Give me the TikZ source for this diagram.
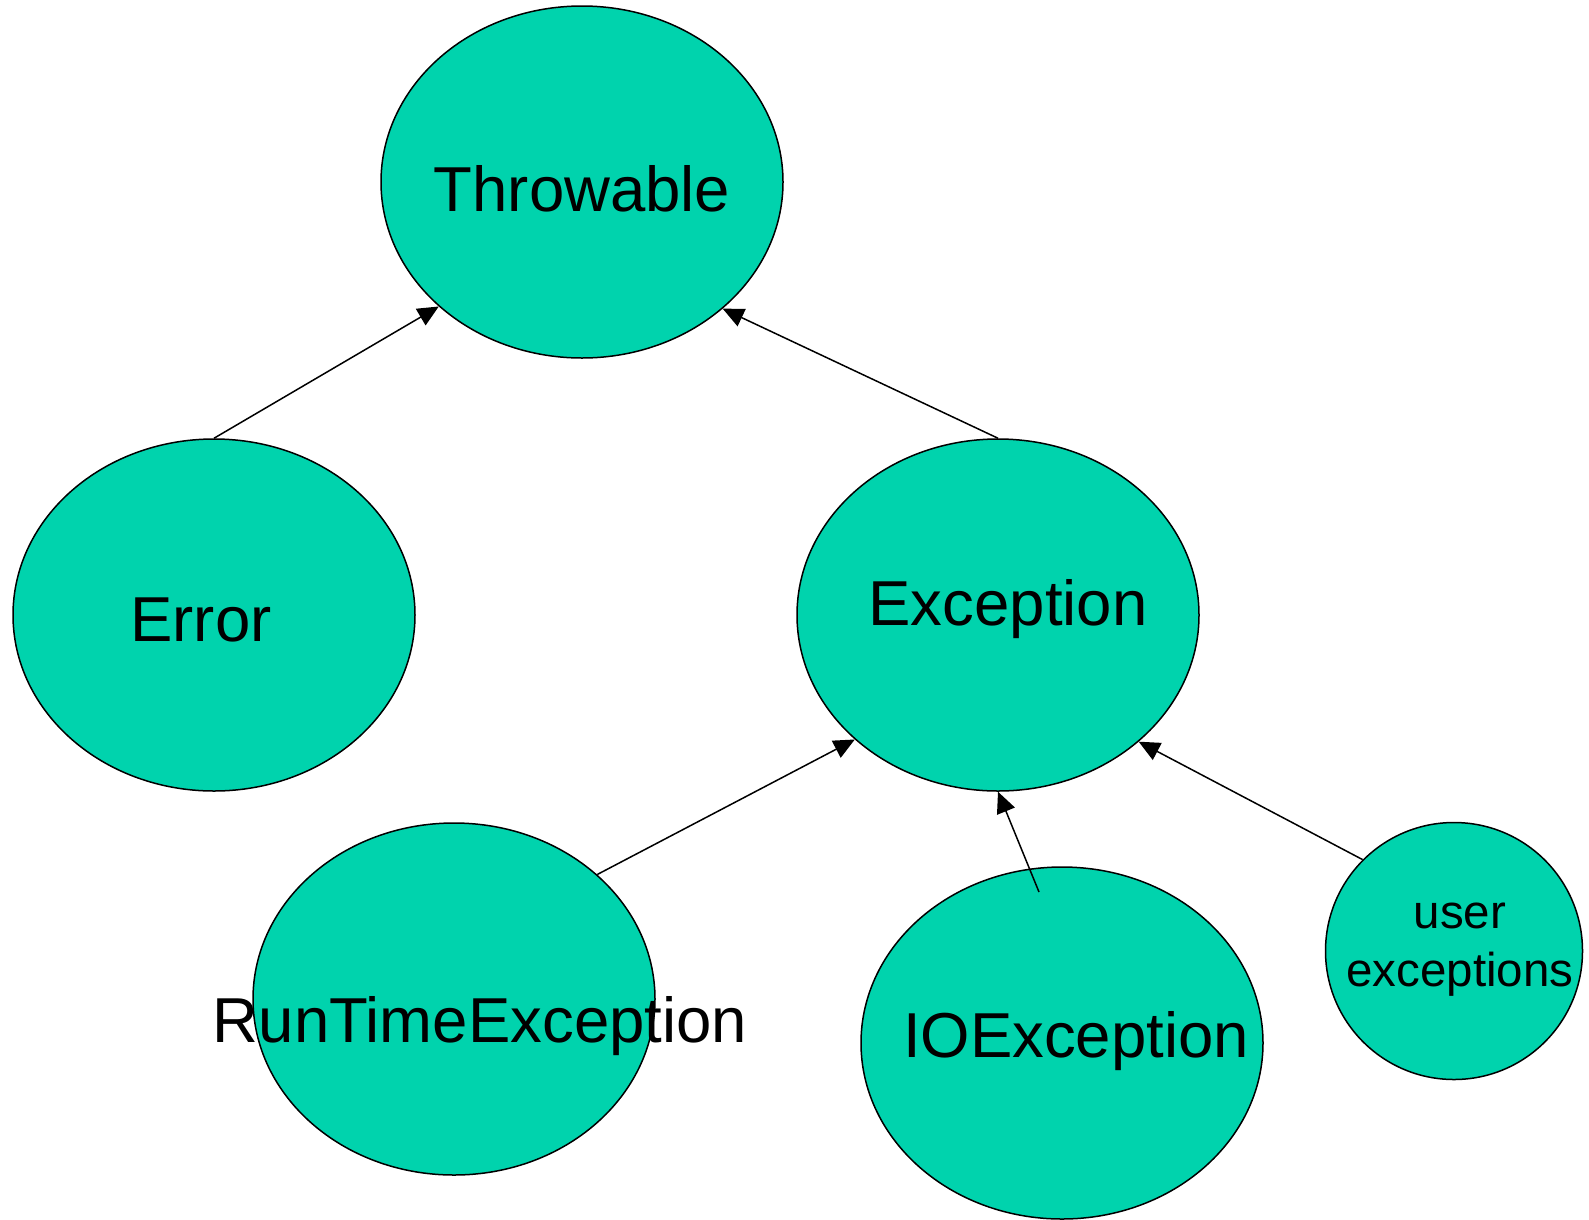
\documentclass[tikz,border=0pt]{standalone}
\usepackage{fontspec}
\setmainfont{Liberation Sans}
\usetikzlibrary{shapes.geometric,arrows.meta}

\definecolor{jade}{RGB}{0,211,173}

\tikzset{
  cls/.style={ellipse, draw, fill=jade, line width=1.5pt,
    minimum width=402pt, minimum height=352pt, inner sep=0pt},
  usercls/.style={circle, draw, fill=jade, line width=1.5pt,
    minimum size=257pt, inner sep=0pt},
  lbl/.style={anchor=base, inner sep=0pt, font=\fontsize{63.5}{70}\selectfont},
  smalllbl/.style={anchor=base, inner sep=0pt, align=center,
    font=\fontsize{47.5}{58}\selectfont},
  inherits/.style={line width=1.5pt, -{Triangle[length=21pt,width=19pt]}}
}

\begin{document}
\begin{tikzpicture}[x=1pt,y=-1pt]
  \useasboundingbox (0,0) rectangle (1589,1219);

  % class bubbles
  \node[cls] (throwable) at (582,182) {};
  \node[cls] (error) at (214,615) {};
  \node[cls] (exception) at (998,615) {};
  \node[cls] (runtime) at (454,999) {};
  \node[cls] (io) at (1062,1043) {};
  \node[usercls] (user) at (1454,951) {};

  % class names (base of last line)
  \node[lbl] (throwable-name) at (582,211) {Throwable};
  \node[lbl] (error-name) at (201,641) {Error};
  \node[lbl] (exception-name) at (1008,625) {Exception};
  \node[lbl] (runtime-name) at (480,1042) {RunTimeException};
  \node[lbl] (io-name) at (1076,1057) {IOException};
  \node[smalllbl] (user-name) at (1460,986) {user\\exceptions};

  % subclass arrows
  \coordinate (io-tail) at (1039,892);
  \draw[inherits] (error.north) -- (throwable.221.6);
  \draw[inherits] (exception.north) -- (throwable.318.6);
  \draw[inherits] (runtime.41.4) -- (exception.221.6);
  \draw[inherits] (io-tail) -- (exception.south);
  \draw[inherits] (user.135) -- (exception.318.6);
\end{tikzpicture}
\end{document}
